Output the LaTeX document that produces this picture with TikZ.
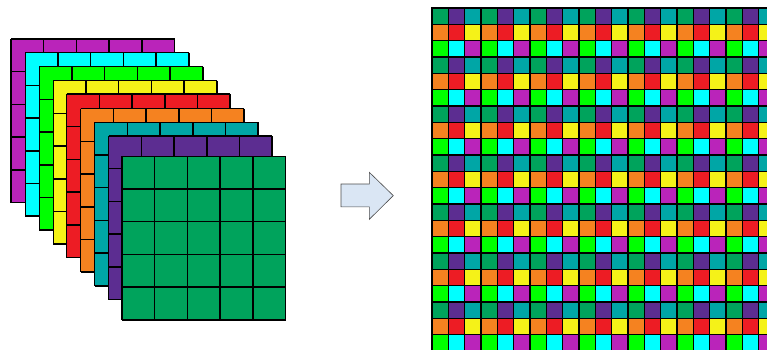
\documentclass[tikz,border=0pt]{standalone}
\definecolor{c0}{RGB}{0,163,92}
\definecolor{c1}{RGB}{92,45,145}
\definecolor{c2}{RGB}{0,166,166}
\definecolor{c3}{RGB}{245,130,32}
\definecolor{c4}{RGB}{237,28,36}
\definecolor{c5}{RGB}{245,242,24}
\definecolor{c6}{RGB}{0,255,0}
\definecolor{c7}{RGB}{0,255,255}
\definecolor{c8}{RGB}{186,36,186}
\definecolor{arrowblue}{RGB}{218,230,244}
\begin{document}
\begin{tikzpicture}[x=1pt,y=-1pt,line width=1.5pt]
        \useasboundingbox (0,0) rectangle (767,349);
        % stacked channels, back to front
        \foreach \k/\x/\y in {8/11/39,7/25.3/52.7,6/39.3/66.7,5/53.3/80.7,4/66.7/94,3/80.7/108.7,2/94.7/122.3,1/108.7/136,0/122/156.3} {
            \fill[c\k] (\x,\y) rectangle ++(163.5,163.5);
            \foreach \i in {0,...,5} {
                \draw (\x+32.7*\i,\y) -- ++(0,163.5);
                \draw (\x,\y+32.7*\i) -- ++(163.5,0);
            }
        }
        % arrow
        \draw[fill=arrowblue,draw=black!70,line width=0.6pt] (341,184) -- (369.3,184) -- (369.3,172.3) -- (393.3,195.6) -- (369.3,219.3) -- (369.3,206.9) -- (341,206.9) -- cycle;
        % shuffled output
        \begin{scope}
            \clip (0,0) rectangle (767,349);
            \foreach \i in {0,...,20} {
                \foreach \j in {0,...,20} {
                    \pgfmathtruncatemacro{\k}{3*mod(\j,3)+mod(\i,3)}
                    \filldraw[fill=c\k] (432+16.33*\i,8+16.33*\j) rectangle ++(16.33,16.33);
                }
            }
        \end{scope}
    \end{tikzpicture}
\end{document}
